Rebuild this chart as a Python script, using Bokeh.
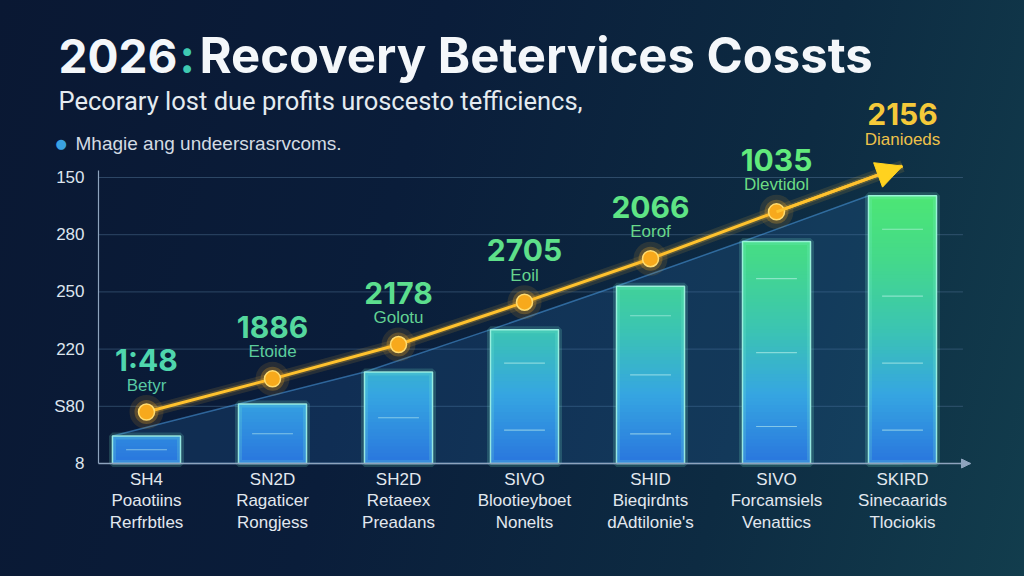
from bokeh.plotting import figure
from bokeh.models import Range1d, FixedTicker, Label, Arrow, NormalHead, ColumnDataSource
from bokeh.embed import file_html
from bokeh.resources import INLINE
from bokeh.core.properties import value

# ---------------- data ----------------
title_parts = ["2026", ":", "Recovery Betervices Cossts"]
subtitle = "Pecorary lost due profits uroscesto tefficiencs,"
legend_label = "Mhagie ang undeersrasrvcoms."

codes = ["SH4", "SN2D", "SH2D", "SIVO", "SHID", "SIVO", "SKIRD"]
names1 = ["Poaotiins", "Ragaticer", "Retaeex", "Blootieyboet", "Bieqirdnts", "Forcamsiels", "Sinecaarids"]
names2 = ["Rerfrbtles", "Rongjess", "Preadans", "Nonelts", "dAdtilonie's", "Venattics", "Tlociokis"]
bar_values = [24, 52, 80, 117, 155, 194, 234]
trend_values = [45, 74, 104, 141, 179, 220, 260]
point_numbers = ["1:48", "1886", "2178", "2705", "2066", "1035", "2156"]
point_names = ["Betyr", "Etoide", "Golotu", "Eoil", "Eorof", "Dlevtidol", "Dianioeds"]
y_ticks = [0, 50, 100, 150, 200, 250]
y_tick_labels = ["8", "S80", "220", "250", "280", "150"]

# ---------------- layout (frame covers the whole canvas) ----------------
W, H = 1024, 576
AX_L, AX_R, AX_B = 98, 970, 463        # pixel positions of the axes
PX_PER_X = 126.0
PX_PER_Y = 1.144
X_AXIS0 = -0.381                        # data x where the y axis sits
X_AXIS1 = X_AXIS0 + (AX_R - AX_L) / PX_PER_X
X0 = X_AXIS0 - AX_L / PX_PER_X
X1 = X_AXIS0 + (W - AX_L) / PX_PER_X
Y0 = -(H - AX_B) / PX_PER_Y
Y1 = AX_B / PX_PER_Y

p = figure(width=W, height=H, output_backend="svg", toolbar_location=None,
           x_range=Range1d(X0, X1), y_range=Range1d(Y0, Y1),
           min_border_left=0, min_border_right=0, min_border_top=0, min_border_bottom=0,
           styles={"background": "linear-gradient(105deg, #0a1833 0%, #0a1d3a 38%, #0d2b42 72%, #123d4d 100%)"})
p.background_fill_alpha = 0
p.border_fill_alpha = 0
p.outline_line_color = None

# axes placed at fixed data locations
xs = list(range(len(codes)))
p.xaxis.fixed_location = 0
p.xaxis.bounds = (X_AXIS0, X_AXIS1)
p.xaxis.ticker = FixedTicker(ticks=xs)
p.xaxis.major_label_overrides = {i: f"{codes[i]}\n{names1[i]}\n{names2[i]}" for i in xs}
p.xaxis.major_label_text_font = "Liberation Sans"
p.xaxis.major_label_text_font_size = "17px"
p.xaxis.major_label_text_color = "#e2e8ef"
p.xaxis.major_label_text_line_height = 1.15
p.xaxis.major_label_standoff = 0
p.xaxis.major_tick_line_color = None
p.xaxis.minor_tick_line_color = None
p.xaxis.axis_line_color = "#8ea3bd"
p.xaxis.axis_line_width = 1.5

p.yaxis.fixed_location = X_AXIS0
p.yaxis.bounds = (0, 256)
p.yaxis.ticker = FixedTicker(ticks=y_ticks)
p.yaxis.major_label_overrides = {t: l for t, l in zip(y_ticks, y_tick_labels)}
p.yaxis.major_label_text_font = "Liberation Sans"
p.yaxis.major_label_text_font_size = "17px"
p.yaxis.major_label_text_color = "#dde5ee"
p.yaxis.major_label_standoff = 8
p.yaxis.major_tick_line_color = None
p.yaxis.minor_tick_line_color = None
p.yaxis.axis_line_color = "#8ea3bd"
p.yaxis.axis_line_width = 1.2

# grid lines limited to the plotting area
p.xgrid.grid_line_color = None
p.ygrid.grid_line_color = None
gy = y_ticks[1:]
p.segment(x0=[X_AXIS0] * len(gy), y0=gy, x1=[X_AXIS1 - 0.06] * len(gy), y1=gy,
          line_color="#4a6c8c", line_alpha=0.55, line_width=1)

# x-axis arrow head
p.add_layout(Arrow(end=NormalHead(size=9, fill_color="#8ea3bd", line_color="#8ea3bd"),
                   x_start=X_AXIS1 - 0.08, y_start=0, x_end=X_AXIS1, y_end=0,
                   line_color="#8ea3bd", line_width=1.5))

BW = 0.54

# translucent area behind bars
ax = [xs[0] - BW / 2] + [x - BW / 2 for x in xs] + [xs[-1], xs[-1]]
ay = [0] + [v for v in bar_values] + [bar_values[-1], 0]
p.patch(ax, ay, fill_color="#2b6fb3", fill_alpha=0.22, line_color="#4b9ae0", line_alpha=0.55, line_width=1.5)

# gradient bars built from overlapping bands (painted bottom-up)
stops = [(0, (42, 118, 222)), (60, (54, 166, 226)), (120, (60, 198, 176)), (180, (69, 218, 138)), (240, (78, 232, 114))]

def grad(v):
    for (a, ca), (b, cb) in zip(stops[:-1], stops[1:]):
        if v <= b:
            t = (v - a) / (b - a)
            return "#%02x%02x%02x" % tuple(int(ca[k] + (cb[k] - ca[k]) * t) for k in range(3))
    return "#%02x%02x%02x" % stops[-1][1]

STEP = 3
bl, br, bb, bt, bc = [], [], [], [], []
for x, v in zip(xs, bar_values):
    y = 0
    while y < v:
        top = min(y + STEP, v)
        bl.append(x - BW / 2); br.append(x + BW / 2)
        bb.append(y); bt.append(v)
        bc.append(grad((y + top) / 2))
        y = top
order = sorted(range(len(bb)), key=lambda i: bb[i])
p.quad(left=[bl[i] for i in order], right=[br[i] for i in order], bottom=[bb[i] for i in order],
       top=[bt[i] for i in order], fill_color=[bc[i] for i in order], line_color=None)

# bar glow + outline
p.quad(left=[x - BW / 2 for x in xs], right=[x + BW / 2 for x in xs], bottom=0, top=bar_values,
       fill_color=None, line_color="#7df5d0", line_alpha=0.18, line_width=7)
p.quad(left=[x - BW / 2 for x in xs], right=[x + BW / 2 for x in xs], bottom=0, top=bar_values,
       fill_color=None, line_color="#a6f6e4", line_alpha=0.85, line_width=1.5)

# decorative inner ticks inside bars
dx0, dx1, dy = [], [], []
for x, v in zip(xs, bar_values):
    n = max(1, int(v // 50))
    for k in range(n):
        dx0.append(x - BW * 0.3); dx1.append(x + BW * 0.3)
        dy.append(v * (k + 0.5) / n)
p.segment(x0=dx0, y0=dy, x1=dx1, y1=dy, line_color="#c8f5ee", line_alpha=0.55, line_width=1.2)

# trend line with glow
p.line(xs, trend_values, line_color="#ffbf2e", line_width=12, line_alpha=0.12)
p.line(xs, trend_values, line_color="#ffbf2e", line_width=6, line_alpha=0.22)
p.line(xs, trend_values, line_color="#ffc22e", line_width=3)
p.add_layout(Arrow(end=NormalHead(size=26, fill_color="#ffd21f", line_color="#ffd21f"),
                   x_start=xs[-2], y_start=trend_values[-2], x_end=xs[-1], y_end=trend_values[-1],
                   line_color="#ffc22e", line_width=3))

px_pts = xs[:-1]
py_pts = trend_values[:-1]
p.scatter(px_pts, py_pts, size=34, fill_color="#ffb020", fill_alpha=0.12, line_color=None)
p.scatter(px_pts, py_pts, size=24, fill_color="#ffb020", fill_alpha=0.25, line_color=None)
p.scatter(px_pts, py_pts, size=16, fill_color="#f7a91c", line_color="#ffdc70", line_width=1.5)

# value labels
num_colors = ["#4fd6ad", "#55d89e", "#5cde8e", "#5ee08a", "#5fe485", "#62ea7c", "#f4c93a"]
name_colors = ["#58c9a4", "#5ccc9c", "#62d293", "#66d48e", "#68d88a", "#6cdc84", "#eec24a"]
src = ColumnDataSource(dict(x=xs, y=trend_values, num=point_numbers, name=point_names,
                            nc=num_colors, mc=name_colors))
p.text(x="x", y="y", text="num", source=src, y_offset=-52, text_align="center", text_baseline="middle",
       text_font=value("Inter"), text_font_style="bold", text_font_size="30px", text_color="nc")
p.text(x="x", y="y", text="name", source=src, y_offset=-27, text_align="center", text_baseline="middle",
       text_font=value("Liberation Sans"), text_font_size="17px", text_color="mc")

# titles (canvas pixel units, y from top)
def lab(x, y, text, **kw):
    p.add_layout(Label(x=x, y=y, x_units="canvas", y_units="canvas", text=text, **kw))

lab(58, 55, title_parts[0], text_font="Inter", text_font_style="bold", text_font_size="46px",
    text_color="#f4f7fa", text_baseline="middle")
lab(179, 55, title_parts[1], text_font="Inter", text_font_style="bold", text_font_size="46px",
    text_color="#3fcab2", text_baseline="middle")
lab(199, 55, title_parts[2], text_font="Inter", text_font_style="bold", text_font_size="49px",
    text_color="#f4f7fa", text_baseline="middle")
lab(58, 100, subtitle, text_font="Roboto", text_font_size="25.5px", text_color="#e4ebf0", text_baseline="middle")
lab(55, 143, "\u25cf", text_font="DejaVu Sans", text_font_size="13px", text_color="#3aa2e2", text_baseline="middle")
lab(75, 143, legend_label, text_font="Liberation Sans", text_font_size="19px", text_color="#d3dbe3",
    text_baseline="middle")

open("out.html", "w").write(file_html(p, INLINE))
